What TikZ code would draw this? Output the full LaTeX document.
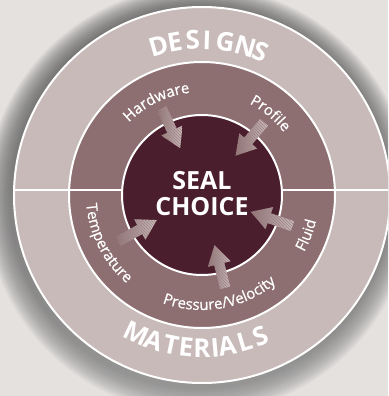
\documentclass[tikz,border=0pt]{standalone}
\usepackage{fontspec}
\setmainfont{Open Sans}
\newfontfamily\labelfont{Open Sans}[FakeBold=0.7]
\usetikzlibrary{shapes.arrows,decorations.text,patterns}

\definecolor{bgback}{HTML}{E4E1DF}
\definecolor{ringout}{HTML}{C8BAB9}
\definecolor{ringmid}{HTML}{8D6F71}
\definecolor{sealcore}{HTML}{4A1E2C}
\definecolor{arrowlight}{HTML}{CDBDBE}
\definecolor{shade}{HTML}{6E4C50}

\begin{document}
\begin{tikzpicture}[x=1pt, y=1pt,
    ring/.style={draw=white, line width=2pt},
    fatarrow/.style={single arrow, draw=none, inner xsep=0pt, inner ysep=5pt,
        single arrow head extend=6.5pt, single arrow tip angle=62, minimum height=44pt,
        left color=ringmid, middle color=ringmid!50!arrowlight, right color=arrowlight,
        sloped, allow upside down,
        postaction={pattern=north west lines, pattern color=ringmid!85!white}},
    bigletter/.style={text=white, inner sep=0pt, font=\bfseries\fontsize{26}{26}\selectfont},
    smalllabel/.style={decorate, decoration={text along path, text align=center,
        text={|\color{white}\labelfont\fontsize{15}{15}\selectfont|#1}}}]

    \def\rin{80}
    \def\rmid{133}
    \def\rout{188}

    \fill[bgback] (-202, -201) rectangle (186, 195);
    \useasboundingbox (-202, -201) rectangle (186, 195);
    \clip (-202, -201) rectangle (186, 195);

    \foreach \i in {1,...,16}
        \fill[shade, opacity=0.035] (-3, -5) circle[radius=\rout + 1.6*\i];

    \fill[ringout, ring] (0, 0) circle[radius=\rout];
    \fill[ringmid, ring] (0, 0) circle[radius=\rmid];
    \draw[white, line width=2pt] (-\rout, 4.5) -- (\rout, 4.5);
    \fill[sealcore, ring] (0, 0) circle[radius=\rin];

    \node[text=white, align=center, font=\bfseries\fontsize{25}{26}\selectfont] (seal) at (0, 1) {SEAL\\CHOICE};

    \foreach \nm/\ang in {hw/115, pr/49.5, tp/209, pv/284, fl/341} {
        \coordinate (\nm tail) at (\ang:100);
        \coordinate (\nm tip) at (\ang:56);
    }
    \foreach \nm in {hw, pr, tp, pv, fl}
        \path (\nm tail) -- (\nm tip) node[midway, fatarrow] (\nm arrow) {};

    \path[smalllabel=Hardware] (150:103) arc[start angle=150, end angle=82, radius=103];
    \path[smalllabel=Profile] (80:103) arc[start angle=80, end angle=20, radius=103];
    \path[smalllabel=Temperature] (170:116) arc[start angle=170, end angle=244, radius=116];
    \path[smalllabel=Pressure/Velocity] (236:115) arc[start angle=236, end angle=324, radius=115];
    \path[smalllabel=Fluid] (318:117) arc[start angle=318, end angle=360, radius=117];

    \foreach \ch/\ang in {D/106.3, E/100.2, S/93.4, I/88.2, G/81.3, N/73.8, S/67.8}
        \node[bigletter, rotate=\ang-90] (d\ang) at (\ang:155) {\ch};
    \foreach \ch/\ang in {M/244.6, A/251.8, T/258.4, E/264, R/270, I/274.9, A/279.5, L/286.2, S/292.4}
        \node[bigletter, rotate=\ang+90] (m\ang) at (\ang:153) {\ch};
\end{tikzpicture}
\end{document}
